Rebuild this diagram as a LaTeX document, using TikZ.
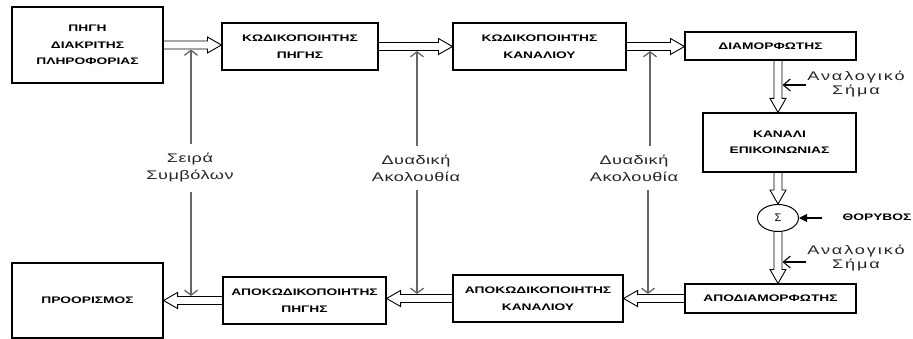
\documentclass[tikz,border=0pt]{standalone}
\usepackage{fontspec}
\setmainfont{Liberation Sans}
\newfontfamily\boxfont[FakeStretch=1.45]{Liberation Sans}
\newfontfamily\lblfont[FakeStretch=1.45,LetterSpace=4]{Liberation Sans}
\newfontfamily\anfont[FakeStretch=1.45,LetterSpace=15]{Liberation Sans}
\usetikzlibrary{calc,arrows.meta,shapes.geometric}
\tikzset{
  blk/.style={draw=black, line width=1.1pt, inner sep=0pt, align=center,
    font=\boxfont\bfseries\fontsize{9.5}{16.5}\selectfont},
  lbl/.style={align=center, inner xsep=1pt, inner ysep=9pt, text=black!85,
    font=\lblfont\fontsize{12.5}{17}\selectfont},
  anlbl/.style={align=center, inner sep=1pt, text=black!85,
    font=\anfont\fontsize{12.5}{13.5}\selectfont},
  hollow/.style={draw=black, line width=0.9pt, line join=miter,
    to path={let \p1=($(\tikztotarget)!14pt!(\tikztostart)$) in
      ($(\tikztostart)!4pt!90:(\tikztotarget)$) -- ($(\p1)!4pt!90:(\tikztotarget)$)
      -- ($(\p1)!8pt!90:(\tikztotarget)$) -- (\tikztotarget)
      -- ($(\p1)!8pt!-90:(\tikztotarget)$) -- ($(\p1)!4pt!-90:(\tikztotarget)$)
      -- ($(\tikztostart)!4pt!-90:(\tikztotarget)$)}},
  thinarr/.style={draw=black!60, line width=1.3pt, -{Straight Barb[length=5pt,width=13pt]}},
  anarr/.style={draw=black, line width=1.1pt, -{Straight Barb[length=7pt,width=12pt]}},
  noisearr/.style={draw=black, line width=1.1pt, -{Triangle[length=8pt,width=8pt]}}
}
\begin{document}
\begin{tikzpicture}[x=1pt,y=-1pt]
\useasboundingbox (0,0) rectangle (913,339);
% blocks
\node[blk, minimum width=151pt, minimum height=76pt] (b1) at (87.5,45) {ΠΗΓΗ\\ΔΙΑΚΡΙΤΗΣ\\ΠΛΗΡΟΦΟΡΙΑΣ};
\node[blk, minimum width=156pt, minimum height=47pt] (b2) at (300,46.5) {ΚΩΔΙΚΟΠΟΙΗΤΗΣ\\ΠΗΓΗΣ};
\node[blk, minimum width=173pt, minimum height=47pt] (b3) at (539.5,46.5) {ΚΩΔΙΚΟΠΟΙΗΤΗΣ\\ΚΑΝΑΛΙΟΥ};
\node[blk, minimum width=171pt, minimum height=28pt] (b4) at (770.5,46) {ΔΙΑΜΟΡΦΩΤΗΣ};
\node[blk, minimum width=153pt, minimum height=59pt] (b5) at (779.5,142.5) {ΚΑΝΑΛΙ\\ΕΠΙΚΟΙΝΩΝΙΑΣ};
\node[ellipse, draw=black, line width=1pt, inner sep=0pt, minimum width=41pt, minimum height=27pt,
  font=\fontsize{11}{11}\selectfont] (sum) at (778,218) {Σ};
\node[blk, minimum width=171pt, minimum height=29pt] (b6) at (770.5,298.5) {ΑΠΟΔΙΑΜΟΡΦΩΤΗΣ};
\node[blk, minimum width=170pt, minimum height=47pt] (b7) at (538,298.5) {ΑΠΟΚΩΔΙΚΟΠΟΙΗΤΗΣ\\ΚΑΝΑΛΙΟΥ};
\node[blk, minimum width=163pt, minimum height=47pt] (b8) at (304.5,300.5) {ΑΠΟΚΩΔΙΚΟΠΟΙΗΤΗΣ\\ΠΗΓΗΣ};
\node[blk, minimum width=151pt, minimum height=75pt] (b9) at (87.5,300.5) {ΠΡΟΟΡΙΣΜΟΣ};
% labels
\node[lbl] (l1) at (190,168) {Σειρά\\Συμβόλων};
\node[lbl] (l2) at (416,168) {Δυαδική\\Ακολουθία};
\node[lbl] (l3) at (634,168) {Δυαδική\\Ακολουθία};
\node[anlbl] (a1) at (856,84) {Αναλογικό\\Σήμα};
\node[anlbl] (a2) at (856,258) {Αναλογικό\\Σήμα};
\node[inner sep=0pt, font=\boxfont\bfseries\fontsize{9.5}{11}\selectfont] (nl) at (877,217.5) {ΘΟΡΥΒΟΣ};
\coordinate (nz) at (822,218);
% hollow arrows
\draw[hollow] (b1.east) to (b1.east -| b2.west);
\draw[hollow] (b2.east) to (b2.east -| b3.west);
\draw[hollow] (b3.east) to (b3.east -| b4.west);
\draw[hollow] (b4.south -| sum) to (b5.north -| sum);
\draw[hollow] (b5.south -| sum) to (sum.north);
\draw[hollow] (sum.south) to (b6.north -| sum);
\draw[hollow] (b6.west) to (b6.west -| b7.east);
\draw[hollow] (b7.west) to (b7.west -| b8.east);
\draw[hollow] (b8.west) to (b8.west -| b9.east);
% thin double-ended arrows
\coordinate (t1) at (191,49.5);  \coordinate (u1) at (191,296);
\coordinate (t2) at (417,51);    \coordinate (u2) at (417,294);
\coordinate (t3) at (650,51);    \coordinate (u3) at (648,294);
\draw[thinarr] (l1.north -| t1) -- (t1);
\draw[thinarr] (l1.south -| u1) -- (u1);
\draw[thinarr] (l2.north -| t2) -- (t2);
\draw[thinarr] (l2.south -| u2) -- (u2);
\draw[thinarr] (l3.north -| t3) -- (t3);
\draw[thinarr] (l3.south -| u3) -- (u3);
% analog signal and noise arrows
\draw[anarr] ($(a1.west)+(0,1)$) -- ($(a1.west -| sum)+(4.5,1)$);
\draw[anarr] ($(a2.west)+(0,4)$) -- ($(a2.west -| sum)+(4.5,4)$);
\draw[noisearr] (nz) -- (sum.east);
\end{tikzpicture}
\end{document}
